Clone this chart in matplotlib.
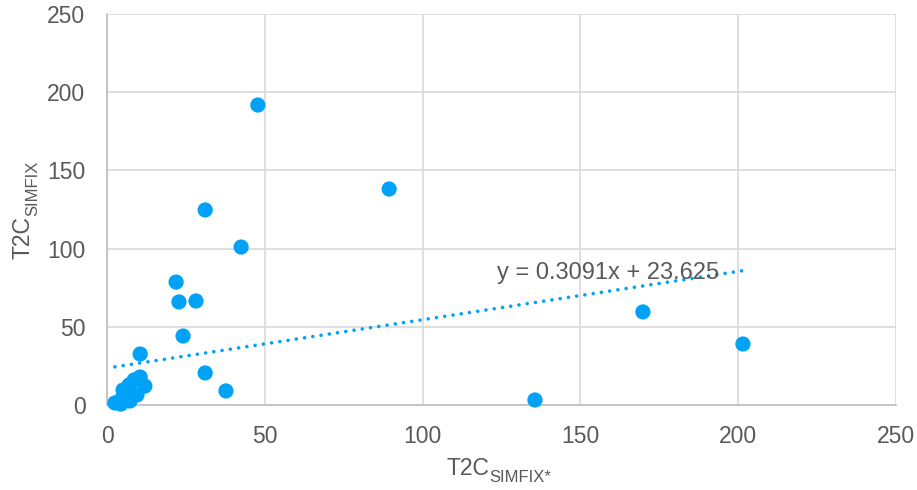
import matplotlib
matplotlib.use("Agg")
import matplotlib.pyplot as plt
import numpy as np

plt.rcParams['font.family'] = ['Liberation Sans', 'DejaVu Sans']

# T2C values: SIMFIX* (x) vs SIMFIX (y)
x_simfix_star = [47.8, 89.4, 31.1, 42.5, 21.9, 22.8, 28.2, 24.1, 10.5, 31.1, 37.7,
                 135.6, 169.8, 201.5,
                 2.5, 4.8, 5.1, 7.0, 8.6, 10.5, 12.0, 9.5, 7.3, 4.4, 6.3]
y_simfix = [191.8, 138.1, 124.7, 101.0, 78.6, 65.9, 66.5, 44.1, 32.6, 20.5, 9.0,
            3.2, 59.5, 39.0,
            1.3, 4.5, 9.6, 12.8, 16.0, 17.9, 12.1, 6.4, 2.6, 0.6, 7.7]

# Linear trendline coefficients
slope = 0.3091
intercept = 23.625

ticks = [0, 50, 100, 150, 200, 250]

BLUE = '#00A2F8'
GRAY_TEXT = '#595959'

W, H = 917, 490
fig = plt.figure(figsize=(W / 100, H / 100), dpi=100)
ax = fig.add_axes([107 / W, 85 / H, 789 / W, 391 / H])

ax.scatter(x_simfix_star, y_simfix, s=120, color=BLUE, edgecolors='none',
           zorder=3, clip_on=False)

xs = np.array([min(x_simfix_star), max(x_simfix_star)])
ax.plot(xs, slope * xs + intercept, linestyle=(0, (0.01, 2.3)), color=BLUE,
        linewidth=2.6, dash_capstyle='round', zorder=2)
ax.text(123.6, 84.4, f'y = {slope}x + {intercept}', fontsize=17, color=GRAY_TEXT,
        va='center', ha='left', zorder=4)

ax.set_xlim(ticks[0], ticks[-1])
ax.set_ylim(ticks[0], ticks[-1])
ax.set_xticks(ticks)
ax.set_yticks(ticks)
ax.grid(True, color='#D9D9D9', linewidth=1.2)
ax.set_axisbelow(True)
for s in ['top', 'right']:
    ax.spines[s].set_visible(False)
for s in ['left', 'bottom']:
    ax.spines[s].set_color('#BFBFBF')
    ax.spines[s].set_linewidth(1.2)
ax.tick_params(axis='both', length=0, labelsize=16.5, colors=GRAY_TEXT)
ax.tick_params(axis='x', pad=14.5)
ax.tick_params(axis='y', pad=15.5)

# Axis titles with a real subscript part, placed in pixel coordinates
renderer = fig.canvas.get_renderer()


def text_width(s, size):
    t = fig.text(0, 0, s, fontsize=size)
    w = t.get_window_extent(renderer).width
    t.remove()
    return w


def px(x, y):
    return x / 100, y / 100


MAIN_SIZE, SUB_SIZE, SUB_DROP = 16.5, 12, 7

# x title
main, sub = 'T2C', 'SIMFIX*'
w1, w2 = text_width(main, MAIN_SIZE), text_width(sub, SUB_SIZE)
cx = 107 + 789 / 2
x0 = cx - (w1 + w2) / 2 - 3
base = 15
fig.text(*px(x0, base), main, fontsize=MAIN_SIZE, color=GRAY_TEXT,
         ha='left', va='baseline', transform=fig.dpi_scale_trans)
fig.text(*px(x0 + w1, base - SUB_DROP), sub, fontsize=SUB_SIZE, color=GRAY_TEXT,
         ha='left', va='baseline', transform=fig.dpi_scale_trans)

# y title (rotated)
main, sub = 'T2C', 'SIMFIX'
w1, w2 = text_width(main, MAIN_SIZE), text_width(sub, SUB_SIZE)
cy = 85 + 391 / 2
y0 = cy - (w1 + w2) / 2
base = 30
fig.text(*px(base, y0), main, fontsize=MAIN_SIZE, color=GRAY_TEXT, rotation=90,
         rotation_mode='anchor', ha='left', va='baseline',
         transform=fig.dpi_scale_trans)
fig.text(*px(base + SUB_DROP, y0 + w1), sub, fontsize=SUB_SIZE, color=GRAY_TEXT,
         rotation=90, rotation_mode='anchor', ha='left', va='baseline',
         transform=fig.dpi_scale_trans)

fig.savefig('out.png', dpi=100)
